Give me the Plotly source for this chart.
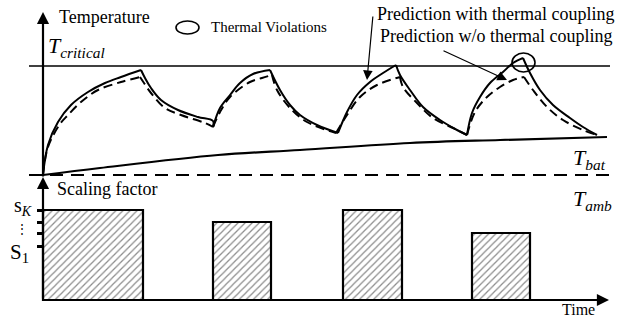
import plotly.graph_objects as go

# ---- data (schematic units: time, temperature above ambient, scaling factor) ----
solid_time = [0, 5, 15, 28, 45, 62, 78, 98,
              102, 108, 118, 135, 155, 170,
              170, 177, 187, 197, 210, 227,
              237, 247, 257, 274, 295,
              304, 314, 327, 340, 353,
              357, 367, 380, 397, 414, 424,
              429, 437, 447, 460, 470, 480,
              487, 497, 510, 527, 540, 554]
solid_temp = [0, 30, 53, 70, 83, 92, 98, 105,
              97, 87, 75, 65, 58, 54,
              48, 67, 80, 92, 101, 105,
              85, 70, 60, 50, 42,
              63, 80, 93, 102, 110,
              100, 85, 68, 55, 45, 40,
              62, 78, 92, 103, 112, 117,
              102, 85, 70, 57, 48, 40]

dashed_time = [0, 5, 17, 25, 38, 55, 78, 97,
               101, 108, 122, 138, 162, 170,
               177, 187, 207, 219, 229,
               234, 247, 264, 293,
               304, 317, 334, 357,
               360, 374, 390, 410, 424,
               432, 444, 457, 470, 481,
               490, 504, 520, 540, 554]
dashed_temp = [0, 28, 51, 60, 73, 85, 93, 98,
               92, 82, 67, 60, 52, 48,
               63, 78, 93, 97, 100,
               85, 67, 53, 42,
               60, 78, 90, 98,
               88, 72, 57, 47, 40,
               63, 78, 88, 95, 98,
               85, 68, 55, 45, 40]

bat_time = [0, 57, 175, 257, 367, 457, 564]
bat_temp = [0, 7, 20, 25, 32, 35, 38]

t_critical = 109
t_ambient = 0
line_span = [-14, 567]

bar_start = [0, 170, 300, 429]
bar_end = [100, 228, 359, 487]
bar_scale = [90, 78, 90, 67]
scale_ticks = [54, 67, 78, 90]

violation_time = 480
violation_temp = 112

FONT = "Liberation Serif, Times New Roman, serif"


def segments(ts, ys):
    """split a polyline into monotonic pieces at its turning points"""
    segs = []
    cur_t, cur_y = [ts[0]], [ys[0]]
    direction = 0
    for i in range(1, len(ts)):
        d = 1 if ys[i] > ys[i - 1] else -1
        if direction != 0 and d != direction:
            segs.append((cur_t, cur_y))
            cur_t, cur_y = [ts[i - 1]], [ys[i - 1]]
        direction = d
        cur_t.append(ts[i])
        cur_y.append(ys[i])
    segs.append((cur_t, cur_y))
    return segs


fig = go.Figure()

for st, sy in segments(solid_time, solid_temp):
    fig.add_trace(go.Scatter(x=st, y=sy, mode="lines", xaxis="x", yaxis="y",
                             line=dict(color="black", width=2, shape="spline", smoothing=1),
                             hoverinfo="skip", showlegend=False))
for st, sy in segments(dashed_time, dashed_temp):
    fig.add_trace(go.Scatter(x=st, y=sy, mode="lines", xaxis="x", yaxis="y",
                             line=dict(color="black", width=2, dash="9px,5px",
                                       shape="spline", smoothing=1),
                             hoverinfo="skip", showlegend=False))

fig.add_trace(go.Scatter(x=bat_time, y=bat_temp, mode="lines", xaxis="x", yaxis="y",
                         line=dict(color="black", width=2.2, shape="spline", smoothing=1),
                         hoverinfo="skip", showlegend=False))

fig.add_trace(go.Scatter(x=line_span, y=[t_critical, t_critical], mode="lines",
                         xaxis="x", yaxis="y", line=dict(color="black", width=1.6),
                         hoverinfo="skip", showlegend=False))
fig.add_trace(go.Scatter(x=line_span, y=[t_ambient, t_ambient], mode="lines",
                         xaxis="x", yaxis="y", line=dict(color="black", width=2, dash="13px,8px"),
                         hoverinfo="skip", showlegend=False))

fig.add_trace(go.Bar(
    x=[(a + b) / 2 for a, b in zip(bar_start, bar_end)],
    width=[b - a for a, b in zip(bar_start, bar_end)],
    y=bar_scale, base=0, xaxis="x", yaxis="y2",
    marker=dict(color="white", line=dict(color="black", width=2.2),
                pattern=dict(shape="/", fgcolor="#1a1a1a", bgcolor="white",
                             size=5, solidity=0.25)),
    hoverinfo="skip", showlegend=False))

# thermal violation markers
fig.add_shape(type="circle", xref="x", yref="y",
              x0=violation_time - 11, x1=violation_time + 12,
              y0=violation_temp - 9, y1=violation_temp + 10,
              line=dict(color="black", width=1.6))
fig.add_shape(type="circle", xref="x", yref="y",
              x0=133, x1=156, y0=141, y1=154,
              line=dict(color="black", width=1.6))

ann = []
# axes with arrows
ann.append(dict(x=0, y=163, ax=0, ay=-3, xref="x", yref="y", axref="x", ayref="y",
                text="", showarrow=True, arrowhead=2, arrowsize=1.1, arrowwidth=2.2,
                arrowcolor="black", standoff=0))
ann.append(dict(x=0, y=123, ax=0, ay=0, xref="x", yref="y2", axref="x", ayref="y2",
                text="", showarrow=True, arrowhead=2, arrowsize=1.1, arrowwidth=2.2,
                arrowcolor="black", standoff=0))
ann.append(dict(x=566, y=0, ax=0, ay=0, xref="x", yref="y2", axref="x", ayref="y2",
                text="", showarrow=True, arrowhead=2, arrowsize=1.1, arrowwidth=2.2,
                arrowcolor="black", standoff=0))
# pointer arrows
ann.append(dict(x=324, y=95, ax=330, ay=160, xref="x", yref="y", axref="x", ayref="y",
                text="", showarrow=True, arrowhead=2, arrowsize=1.6, arrowwidth=1.2,
                arrowcolor="black", standoff=0))
ann.append(dict(x=464, y=95, ax=399, ay=125, xref="x", yref="y", axref="x", ayref="y",
                text="", showarrow=True, arrowhead=2, arrowsize=1.6, arrowwidth=1.2,
                arrowcolor="black", standoff=0))

def txt(x, y, s, yref="y", size=18, xanchor="left"):
    return dict(x=x, y=y, xref="x", yref=yref, text=s, showarrow=False,
                xanchor=xanchor, yanchor="middle",
                font=dict(family=FONT, size=size, color="black"))

ann.append(txt(14, 158, "Temperature"))
ann.append(txt(3, 128, "<i>T<sub>critical</sub></i>", size=22))
ann.append(txt(166, 148, "Thermal Violations", size=15))
ann.append(txt(332, 161, "Prediction with thermal coupling"))
ann.append(txt(335, 139, "Prediction w/o thermal coupling"))
ann.append(txt(528, 16, "<i>T<sub>bat</sub></i>", size=22))
ann.append(txt(528, 100, "<i>T<sub>amb</sub></i>", yref="y2", size=22))
ann.append(txt(12, 111, "Scaling factor", yref="y2"))
ann.append(txt(-9, 94, "s<sub><i>K</i></sub>", yref="y2", size=20, xanchor="right"))
ann.append(txt(-21, 71, "⋮", yref="y2", size=12, xanchor="center"))
ann.append(txt(-12, 47, "S<sub>1</sub>", yref="y2", size=21, xanchor="right"))
ann.append(txt(517, -9, "Time", yref="y2", size=16))

W, H = 632, 325
top_split = 178
fig.update_layout(
    width=W, height=H, margin=dict(l=0, r=0, t=0, b=0),
    paper_bgcolor="white", plot_bgcolor="white",
    xaxis=dict(domain=[0, 1], range=[-43, W - 43], visible=False),
    yaxis=dict(domain=[1 - top_split / H, 1], range=[175 - top_split, 175], visible=False),
    yaxis2=dict(domain=[0, 1 - top_split / H], range=[300 - H, 300 - top_split],
                anchor="free", position=43 / W, showgrid=False, zeroline=False,
                showline=False, showticklabels=False, ticks="outside",
                tickvals=scale_ticks, ticklen=6, tickwidth=3, tickcolor="black"),
    annotations=ann, bargap=0,
)

fig.write_html("out.html", config={"displayModeBar": False, "staticPlot": True},
               post_script="document.body.style.margin='0';document.body.style.overflow='hidden';")
